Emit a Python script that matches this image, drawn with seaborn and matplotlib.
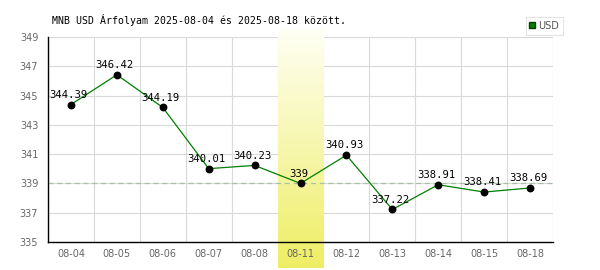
import numpy as np
import pandas as pd
import matplotlib
matplotlib.use("Agg")
import matplotlib.pyplot as plt
import seaborn as sns
from matplotlib.lines import Line2D

dates = ["08-04", "08-05", "08-06", "08-07", "08-08", "08-11", "08-12", "08-13", "08-14", "08-15", "08-18"]
usd = [344.39, 346.42, 344.19, 340.01, 340.23, 339.00, 340.93, 337.22, 338.91, 338.41, 338.69]
value_labels = ["344.39", "346.42", "344.19", "340.01", "340.23", "339", "340.93", "337.22", "338.91", "338.41", "338.69"]
yticks = [335, 337, 339, 341, 343, 345, 347, 349]
highlight = "08-11"
ref_level = 339
title = "MNB USD Árfolyam 2025-08-04 és 2025-08-18 között."

sns.set_theme(style="white")
plt.rcParams["font.family"] = ["DejaVu Sans"]

df = pd.DataFrame({"date": dates, "usd": usd})
df["pos"] = np.arange(len(dates))

fig = plt.figure(figsize=(6, 2.7), dpi=100)
ax = fig.add_axes([48/600, 1-242/270, 505/600, 205/270])
ax.set_facecolor("white")

n = len(dates)
ax.set_xlim(-0.5, n - 0.5)
ax.set_ylim(335, 349)

# gridlines
for y in yticks[1:]:
    ax.axhline(y, color="#d9d9d9", lw=0.8, zorder=0.2)
for i in range(n):
    ax.axvline(i + 0.5, color="#d9d9d9", lw=0.8, zorder=0.2)

# highlight band with gradient
hi = dates.index(highlight)
grad = np.linspace(0, 1, 256)[:, None]
top = np.array([255, 255, 245]) / 255
bot = np.array([238, 238, 100]) / 255
img = top[None, None, :] * (1 - grad[:, :, None]) + bot[None, None, :] * grad[:, :, None]
img = np.repeat(img, 2, axis=1)
ax.imshow(img, extent=[hi - 0.5, hi + 0.5, 333.2, 349.5], aspect="auto",
          zorder=0.5, clip_on=False, origin="upper")
ax.set_xlim(-0.5, n - 0.5)
ax.set_ylim(335, 349)

ax.axhline(ref_level, color="#a8c0a8", lw=0.9, ls=(0, (4, 3)), zorder=0.8)

sns.lineplot(data=df, x="pos", y="usd", ax=ax, color="#008000", lw=0.9, zorder=2, legend=False)
sns.scatterplot(data=df, x="pos", y="usd", ax=ax, color="black", s=32, edgecolor="black",
                linewidth=0, zorder=3, legend=False)

for i, (v, lab) in enumerate(zip(usd, value_labels)):
    ax.annotate(lab, (i, v), xytext=(-1.5, 3.5), textcoords="offset points",
                ha="center", va="bottom", fontsize=7.6, family="DejaVu Sans Mono",
                color="black", zorder=4)

ax.set_xticks(range(n))
ax.set_xticklabels(dates)
ax.set_yticks(yticks)
ax.set_xlabel("")
ax.set_ylabel("")
ax.tick_params(axis="both", length=0, labelsize=7, colors="#666666")
ax.tick_params(axis="x", pad=5)
ax.tick_params(axis="y", pad=7)

for s in ["top", "right"]:
    ax.spines[s].set_visible(False)
for s in ["left", "bottom"]:
    ax.spines[s].set_color("black")
    ax.spines[s].set_linewidth(1.0)
    ax.spines[s].set_zorder(2.5)

fig.text(52/600, 1-20/270, title, fontsize=7.1, family="DejaVu Sans Mono",
         color="black", va="center", ha="left")

handle = Line2D([], [], marker="s", color="none", markerfacecolor="#008000",
                markeredgecolor="#004000", markersize=5)
leg = fig.legend([handle], ["USD"], loc="upper right", bbox_to_anchor=(563/600, 1-17/270),
                 fontsize=7, frameon=True, fancybox=False, handlelength=0.6,
                 handletextpad=0.3, borderpad=0.4, borderaxespad=0)
leg.get_frame().set_edgecolor("#dddddd")
leg.get_frame().set_linewidth(0.8)
for t in leg.get_texts():
    t.set_color("#555555")

fig.savefig("out.png", dpi=100)
